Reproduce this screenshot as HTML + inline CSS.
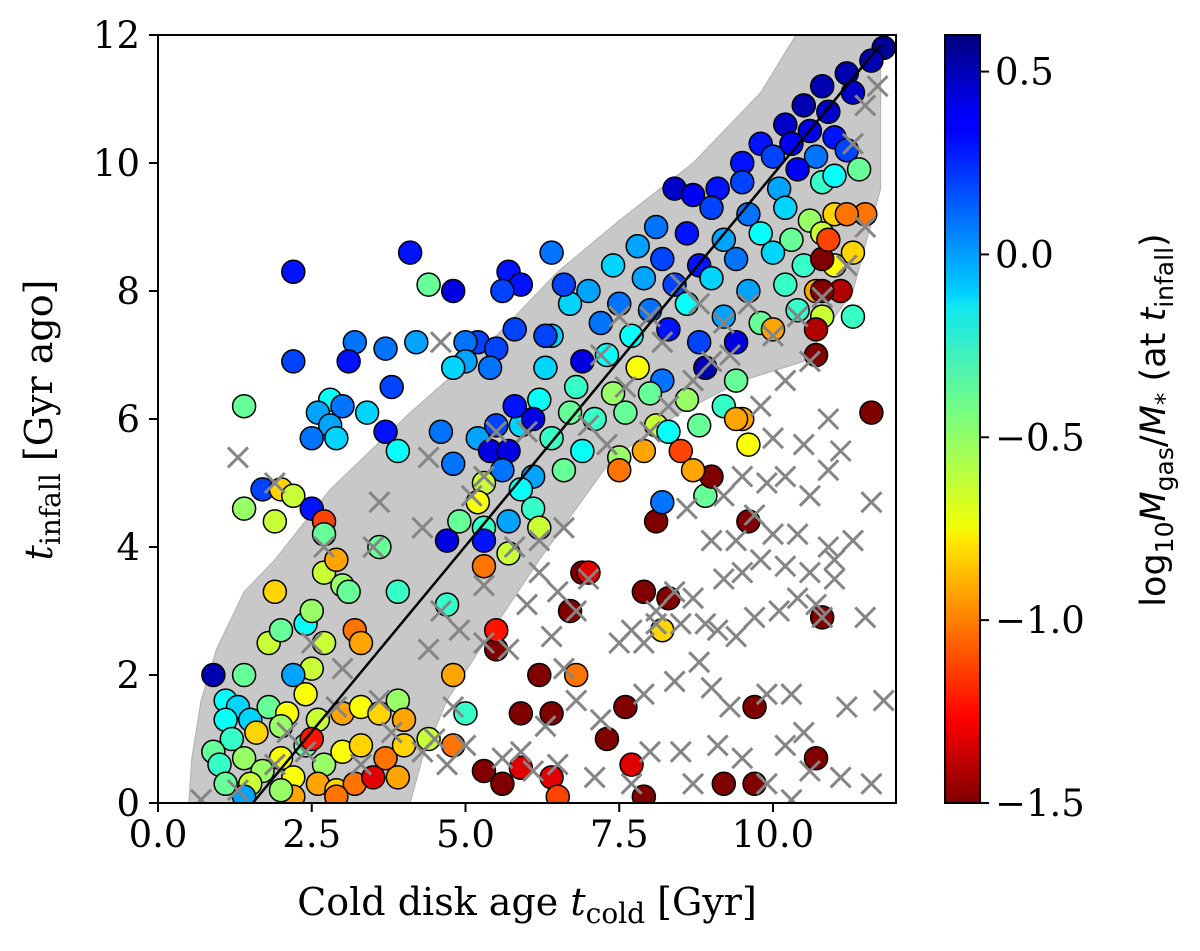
<!DOCTYPE html>
<html><head><meta charset="utf-8"><style>
body{margin:0;background:#fff}
svg text{font-family:"DejaVu Serif","Liberation Serif",serif}
</style></head><body>
<svg id="chart" width="1200" height="946" xmlns="http://www.w3.org/2000/svg">
<defs>
<linearGradient id="jet" x1="0" y1="0" x2="0" y2="1">
<stop offset="0" stop-color="#00007f"/><stop offset="0.11" stop-color="#0000ff"/><stop offset="0.125" stop-color="#0000ff"/>
<stop offset="0.34" stop-color="#00d4ff"/><stop offset="0.35" stop-color="#0de5f2"/><stop offset="0.5" stop-color="#7dff7a"/>
<stop offset="0.64" stop-color="#f0ff07"/><stop offset="0.66" stop-color="#ffe600"/><stop offset="0.89" stop-color="#ff0000"/><stop offset="1" stop-color="#7f0000"/>
</linearGradient>
<clipPath id="pc"><rect x="158" y="35" width="738" height="768"/></clipPath>
</defs>
<g id="plot" clip-path="url(#pc)"></g>
<rect x="158" y="35" width="738" height="768" fill="none" stroke="#000" stroke-width="2"/>
<g id="axes"></g>
<rect x="945" y="35" width="35" height="768" fill="url(#jet)" stroke="#000" stroke-width="2"/>
<text x="527" y="915" font-size="38" text-anchor="middle">Cold disk age <tspan font-style="italic">t</tspan><tspan font-size="28" dy="8">cold</tspan><tspan dy="-8"> [Gyr]</tspan></text>
<text transform="translate(52,420) rotate(-90)" font-size="38" text-anchor="middle"><tspan font-style="italic">t</tspan><tspan font-size="28" dy="8">infall</tspan><tspan dy="-8"> [Gyr ago]</tspan></text>
<text transform="translate(1165,420) rotate(-90)" font-size="35" text-anchor="middle" style="font-family:'DejaVu Sans','Liberation Sans',sans-serif">log<tspan font-size="25" dy="8">10</tspan><tspan dy="-8" font-style="italic">M</tspan><tspan font-size="25" dy="8">gas</tspan><tspan dy="-8">/</tspan><tspan font-style="italic">M</tspan><tspan font-size="25" dy="8">*</tspan><tspan dy="-8"> (at </tspan><tspan font-style="italic">t</tspan><tspan font-size="25" dy="8">infall</tspan><tspan dy="-8">)</tspan></text>
</svg>
<script>
const xTicks=[0,2.5,5,7.5,10];
const xTickLabels=["0.0","2.5","5.0","7.5","10.0"];
const yTicks=[0,2,4,6,8,10,12];
const cTicks=[0.5,0,-0.5,-1,-1.5];
const cTickLabels=["0.5","0.0","\u22120.5","\u22121.0","\u22121.5"];
const bandX=[0.5,0.55,0.7,0.95,1.4,1.9,2.8,4.1,5.4,6.5,7.5,8.7,9.8,10.5,11.75,11.75,11.3,10.5,9.5,8.5,7.4,6.2,5.3,4.7,4.3,4.1];
const bandY=[0,0.7,1.6,2.4,3.3,3.8,4.9,6.1,7.2,8.3,9.1,10.0,11.1,12.2,12.2,9.6,8.0,6.9,6.6,6.1,5.4,3.8,2.5,1.6,0.7,0];
const lineX=[1.54,11.75];
const lineY=[0,11.85];
const crossX=[1.3,1.9,2.7,3.5,4.4,4.6,3.6,4.3,5.5,6.0,5.1,5.3,6.2,6.0,6.5,7.0,6.8,6.4,6.6,5.7,5.3,4.4,4.9,3.0,2.5,2.9,3.6,3.8,4.5,4.8,5.0,4.7,5.6,5.9,6.1,6.5,7.1,7.7,8.0,8.5,8.7,9.1,9.5,9.9,10.3,10.6,11.1,11.6,10.2,10.3,11.2,11.8,10.5,9.9,9.0,8.4,7.9,7.2,6.8,6.3,7.5,7.9,8.1,8.5,8.9,9.1,9.4,9.7,10.1,10.4,10.7,10.8,11.5,8.1,8.4,8.7,9.2,9.5,9.8,10.2,10.6,11.0,9.0,9.4,9.7,10.0,10.4,10.9,11.3,11.6,9.2,9.5,9.9,10.2,10.6,10.9,11.1,10.0,10.5,10.9,9.8,10.2,10.6,10.0,10.4,10.8,11.2,11.5,11.3,11.5,11.7,9.6,9.2,8.8,8.5,8.2,8.0,7.5,7.2,7.6,8.3,8.7,9.0,9.3,8.0,7.3,7.0,6.6,6.2,5.8,5.3,4.6,2.4,1.9,1.3,0.7,2.1,3.3,4.3,9.3,8.8,7.7,11.0,8.6];
const crossY=[5.4,5.0,4.0,4.0,5.4,7.2,4.7,4.3,5.8,5.8,4.8,5.1,3.6,3.1,3.3,3.5,3.0,2.6,2.1,2.4,2.5,2.4,2.7,2.1,2.5,1.5,1.6,1.1,1.0,1.5,0.9,0.6,0.7,0.8,0.5,0.6,0.4,0.3,0.8,0.8,0.3,0.9,0.7,0.3,0.05,0.5,0.4,0.3,0.9,1.7,1.5,1.6,1.1,1.7,1.8,1.9,1.7,1.3,1.6,1.2,2.5,2.5,2.8,2.8,2.8,2.7,2.6,2.9,3.0,3.2,3.1,2.9,2.9,3.0,3.3,3.2,3.5,3.6,3.8,3.7,3.6,3.8,4.1,4.1,4.5,4.2,4.2,4.0,4.1,4.7,4.8,5.1,5.0,5.1,4.8,5.2,5.5,5.7,5.6,6.0,6.2,6.6,6.9,7.3,7.6,7.9,8.4,9.0,10.3,10.9,11.2,7.8,7.5,7.8,8.1,7.2,7.6,7.6,7.0,6.5,6.2,6.6,6.9,7.0,5.8,5.6,5.9,4.3,4.1,4.0,3.4,3.0,0.8,0.6,0.2,0.05,1.1,0.6,0.8,1.5,2.2,2.7,3.5,4.6];
const ptX=[11.8,11.6,11.2,10.8,11.3,10.5,10.9,10.2,10.6,11.0,10.3,9.8,10.0,10.7,11.2,9.5,10.4,9.1,9.5,10.1,10.8,11.0,11.4,8.4,8.7,9.0,9.6,10.2,10.6,11.0,11.5,8.1,8.6,9.2,9.8,10.3,10.8,11.3,7.8,8.2,8.8,9.4,10.0,10.5,11.0,7.4,7.9,8.4,9.0,9.6,10.2,10.7,11.1,7.0,7.5,8.0,8.6,9.2,9.8,10.4,10.8,11.3,6.7,7.2,7.7,8.3,8.8,9.4,10.0,10.7,6.6,6.9,6.4,7.3,7.8,8.2,8.9,9.4,10.7,6.3,6.8,7.4,8.0,8.6,9.2,9.5,6.2,6.7,7.1,7.6,8.1,8.8,11.6,5.9,6.4,6.9,7.5,8.3,
2.2,2.2,4.1,4.8,3.7,4.2,3.2,3.1,4.4,5.7,5.9,5.6,6.4,5.2,5.0,5.0,5.5,5.8,6.3,5.4,4.8,1.4,2.8,2.6,2.8,3.0,3.4,3.8,2.5,2.9,3.7,3.9,4.6,5.2,5.5,5.8,6.1,4.8,5.4,5.7,5.6,6.1,6.6,5.9,5.3,5.2,4.9,5.3,5.7,6.1,4.7,5.3,5.7,6.2,1.7,2.0,2.2,1.4,1.9,2.5,2.7,2.7,3.6,4.7,5.3,1.9,2.7,2.9,3.0,3.9,2.4,2.5,3.1,2.7,3.2,3.3,1.8,2.0,2.5,2.2,2.4,0.9,1.4,1.1,1.3,1.1,1.5,1.8,2.1,2.0,1.2,1.6,2.6,3.0,3.3,3.6,3.9,4.0,4.8,5.0,0.9,1.0,1.4,1.7,2.0,2.4,2.7,3.0,3.3,3.7,4.0,1.1,1.5,2.2,2.6,2.9,3.2,3.5,3.9,2.2,2.9,2.5,4.8,4.4,1.4,2.0,
5.5,5.5,6.2,6.8,5.9,6.4,7.3,7.6,7.7,7.9,5.3,5.6,5.9,6.4,6.5,6.9,7.0,7.9,8.2,8.1,8.2,8.9,9.0,9.6,9.6,9.7,9.2,9.7,10.7,10.8,7.5,7.9,8.5,8.7,9.4,8.3,6.7,10.8,10.8,11.2,10.9];
const ptY=[11.8,11.6,11.4,11.2,11.1,10.9,10.8,10.6,10.5,10.4,10.3,10.3,10.1,10.1,10.2,10.0,9.9,9.6,9.7,9.6,9.7,9.8,9.9,9.6,9.5,9.3,9.2,9.3,9.1,9.2,9.2,9.0,8.9,8.8,8.9,8.8,8.9,8.6,8.7,8.5,8.4,8.5,8.6,8.4,8.4,8.4,8.2,8.1,8.2,8.0,8.1,8.0,8.0,8.0,7.8,7.7,7.8,7.6,7.5,7.7,7.6,7.6,7.8,7.5,7.3,7.4,7.2,7.2,7.4,7.4,8.1,6.9,7.3,7.0,6.8,6.6,6.8,6.6,7.0,6.8,6.5,6.4,6.4,6.3,6.2,6.0,6.3,6.1,6.0,6.1,5.9,5.9,6.1,5.9,5.7,5.5,5.4,5.8,
8.3,6.9,8.6,8.0,7.1,7.2,7.2,6.9,8.1,8.3,8.1,8.0,8.6,7.2,7.2,6.9,7.1,7.4,7.3,6.8,6.8,6.2,6.3,6.1,5.9,6.2,6.1,6.5,5.7,5.7,5.8,5.5,5.8,5.7,5.9,6.2,6.0,5.3,5.5,5.5,5.2,5.1,5.2,4.9,5.0,4.7,4.4,4.3,4.4,4.6,4.1,4.1,3.9,4.3,4.9,4.9,4.8,4.6,4.4,4.6,4.4,4.2,4.0,3.1,3.7,3.3,3.6,3.8,3.4,3.3,2.8,3.0,3.3,2.5,2.7,2.5,2.5,2.7,2.1,2.0,1.7,2.0,2.0,1.6,1.5,1.3,1.3,1.5,1.4,1.2,1.0,1.1,1.3,1.4,1.5,1.4,1.6,1.3,2.0,1.4,0.8,0.6,0.7,0.5,0.7,0.9,0.6,0.8,0.9,0.7,0.9,0.3,0.3,0.4,0.3,0.2,0.3,0.4,0.4,0.1,0.1,1.0,0.9,1.0,0.1,0.2,
2.4,2.7,2.0,2.0,1.4,1.4,1.0,1.5,0.6,0.1,0.5,0.3,0.55,0.4,0.1,3.6,3.6,3.3,2.7,4.4,4.7,4.8,5.1,5.6,4.4,1.5,0.3,0.3,0.7,2.9,5.2,5.5,5.5,5.2,6.0,3.2,3.0,8.0,8.5,9.2,8.8];
const ptC=[0.55,0.5,0.5,0.5,0.45,0.5,0.45,0.45,0.4,0.3,0.35,0.3,0.2,0.1,0.2,0.3,0.35,0.3,0.2,0.0,-0.3,-0.2,-0.4,0.45,0.35,0.2,0.1,-0.1,-0.5,-0.8,-1.0,0.1,0.3,0.0,-0.2,-0.4,-0.6,-0.8,0.0,0.2,0.3,0.1,-0.1,-0.3,-0.7,-0.1,0.0,0.2,-0.1,0.0,-0.3,-0.9,-1.4,0.0,0.1,0.1,-0.2,0.0,-0.4,-0.3,-0.6,-0.3,-0.1,0.1,-0.2,0.3,0.2,0.4,-0.9,-1.4,0.2,0.4,-0.1,-0.2,-0.7,0.1,0.5,-0.4,-1.5,-0.1,-0.3,-0.5,-0.4,-0.5,-0.3,-0.9,-0.2,-0.4,-0.3,-0.4,-0.6,-0.4,-1.5,-0.1,-0.3,-0.2,-0.5,-0.2,
0.3,0.2,0.3,0.4,0.1,0.0,0.1,0.3,-0.4,0.3,0.3,0.2,0.1,0.2,0.1,0.0,0.2,0.2,0.2,0.1,-0.1,-0.4,-0.2,0.0,0.0,0.1,-0.1,0.2,0.1,-0.1,0.3,-0.2,0.1,0.0,0.2,0.3,0.4,0.1,0.4,0.4,0.1,0.0,-0.4,-0.2,-0.6,-0.7,-0.4,-0.3,0.0,-0.3,0.4,0.3,-0.6,-0.6,0.2,-0.8,-0.6,-0.5,-0.6,0.3,-1.1,-0.4,-0.4,-0.3,-1.0,-0.8,-0.6,-0.9,-0.5,-0.3,-0.2,-0.5,-0.4,-0.6,-1.0,-0.9,-0.6,-0.4,-0.6,0.0,-0.7,0.5,-0.4,-0.2,-0.1,-0.2,-0.1,-0.4,-0.7,-0.5,-0.3,-0.8,-0.6,-0.9,-0.7,-0.8,-0.5,-0.9,-0.9,-0.3,-0.4,-0.3,-0.5,-0.5,-0.7,-0.4,-0.5,-0.7,-0.8,-1.0,-0.8,-0.4,-0.6,-0.7,-0.9,-0.8,-1.0,-1.3,-0.9,-0.9,-1.0,-1.2,-1.0,-0.6,0.0,-0.5,
-1.6,-1.2,-1.6,-1.0,-1.6,-1.6,-1.6,-1.6,-1.3,-1.6,-1.6,-1.6,-1.3,-1.3,-1.1,-1.6,-1.3,-1.6,-0.8,-1.6,0.1,-0.4,-1.6,-0.7,-1.6,-1.6,-1.6,-1.6,-1.6,-1.6,-1.0,-0.9,-1.1,-0.9,-0.9,-1.6,-1.5,-1.6,-1.5,-1.0,-1.1];

const NS='http://www.w3.org/2000/svg';
const X0=158,X1=896,Y0=803,Y1=35;
const sx=v=>X0+v/12*(X1-X0);
const sy=v=>Y0-v/12*(Y0-Y1);
const cy=v=>803-(v+1.5)/2.1*768;
function jet(v){let t=1-(v+1.5)/2.1;t=Math.max(0,Math.min(1,t));
const f=a=>Math.round(255*Math.max(0,Math.min(1,1.5-Math.abs(4*t-a))));
return `rgb(${f(3)},${f(2)},${f(1)})`;}
function mk(tag,attrs,parent){const e=document.createElementNS(NS,tag);for(const k in attrs)e.setAttribute(k,attrs[k]);parent.appendChild(e);return e;}
const plot=document.getElementById('plot'),axes=document.getElementById('axes');
let pts=bandX.map((x,i)=>sx(x)+','+sy(bandY[i])).join(' ');
const band=mk('polygon',{points:pts,fill:'#c8c8c8',stroke:'#b0b0b0','stroke-width':1},plot);


for(let i=0;i<ptX.length;i++){
 const c=mk('circle',{cx:sx(ptX[i]),cy:sy(ptY[i]),r:11.5,fill:jet(ptC[i]),stroke:'#000','stroke-width':1.5},plot);
 
 
}
for(let i=0;i<crossX.length;i++){
 const x=sx(crossX[i]),y=sy(crossY[i]),d=10;
 const p=mk('path',{d:`M${x-d},${y-d}L${x+d},${y+d}M${x-d},${y+d}L${x+d},${y-d}`,stroke:'#858585','stroke-width':3,fill:'none'},plot);
 
 
}
const ln=mk('line',{x1:sx(lineX[0]),y1:sy(lineY[0]),x2:sx(lineX[1]),y2:sy(lineY[1]),stroke:'#000','stroke-width':2.5},plot);


xTicks.forEach((v,i)=>{
 mk('line',{x1:sx(v),x2:sx(v),y1:803,y2:812,stroke:'#000','stroke-width':2},axes);
 const t=mk('text',{x:sx(v),y:847,'font-size':37,'text-anchor':'middle'},axes);t.textContent=xTickLabels[i];
 
 
});
yTicks.forEach(v=>{
 mk('line',{x1:149,x2:158,y1:sy(v),y2:sy(v),stroke:'#000','stroke-width':2},axes);
 const t=mk('text',{x:140,y:sy(v)+13,'font-size':37,'text-anchor':'end'},axes);t.textContent=String(v);
 
 
});
cTicks.forEach((v,i)=>{
 mk('line',{x1:980,x2:989,y1:cy(v),y2:cy(v),stroke:'#000','stroke-width':2},axes);
 const t=mk('text',{x:995,y:cy(v)+13,'font-size':37},axes);t.textContent=cTickLabels[i];
 
 
});
</script>
</body></html>
